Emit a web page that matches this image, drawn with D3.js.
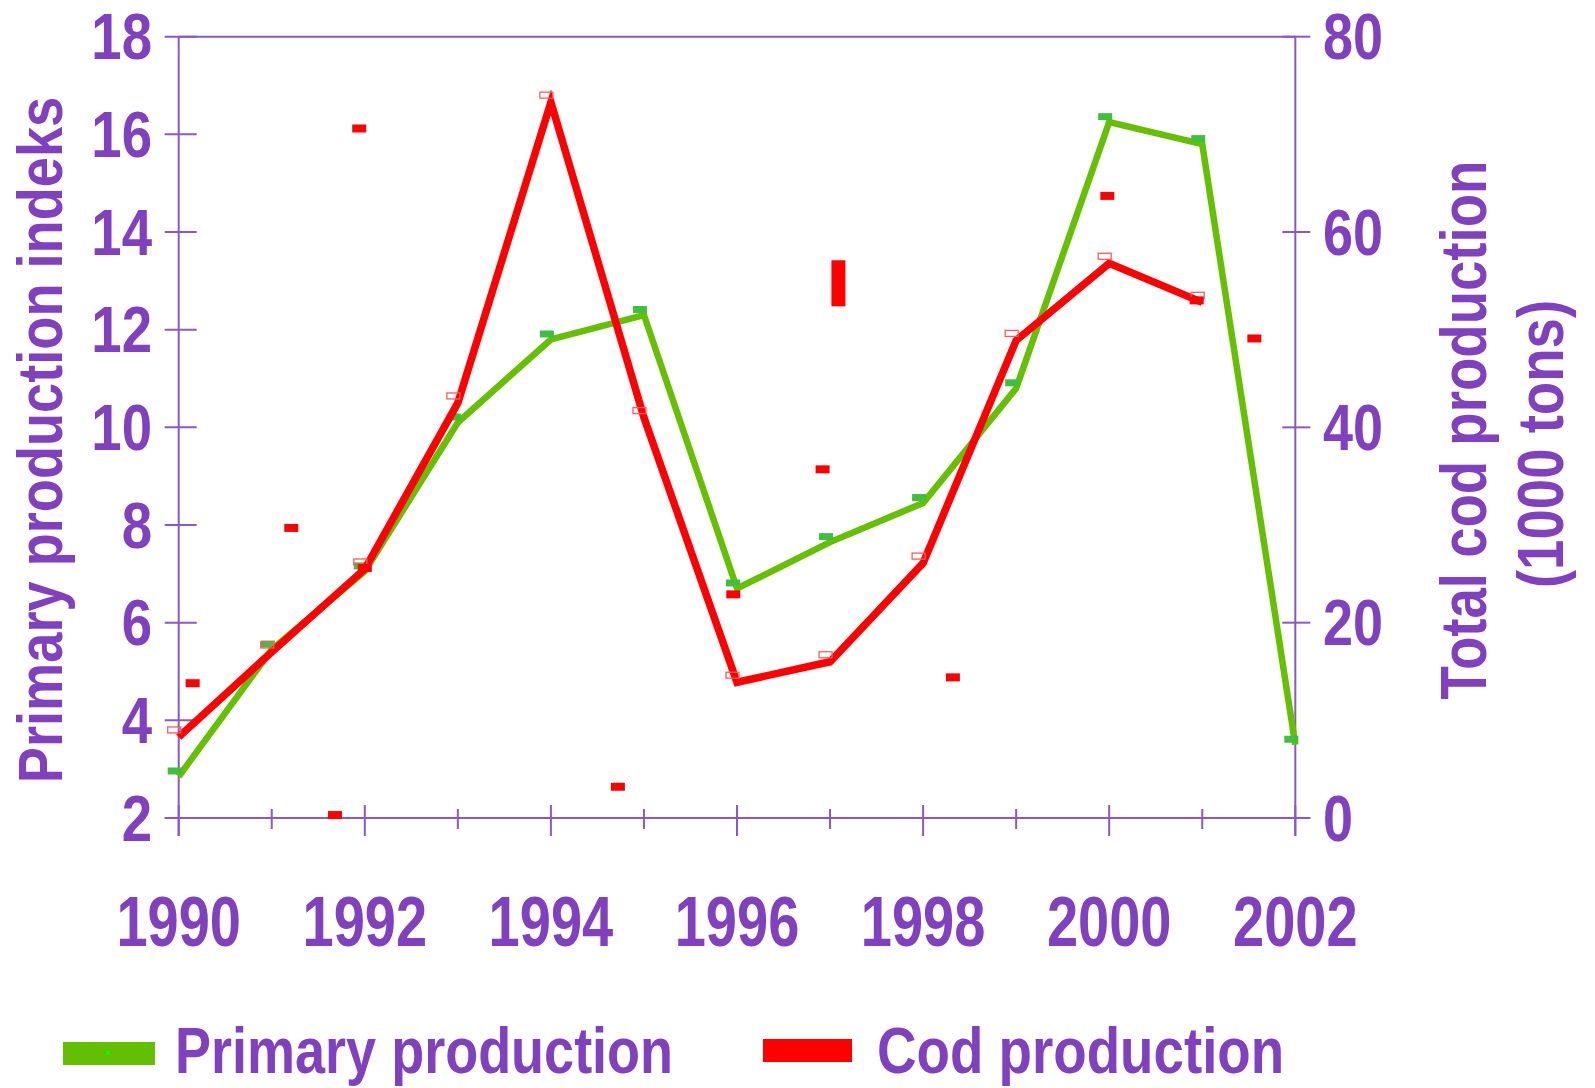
<!DOCTYPE html>
<html>
<head>
<meta charset="utf-8">
<script src="https://cdn.jsdelivr.net/npm/d3@7"></script>
<style>
  body { margin: 0; background: #fff; }
  text { font-family: "Liberation Sans", Arial, sans-serif; font-weight: bold; fill: #8040c0; }
</style>
</head>
<body>
<svg id="chart" width="1595" height="1088"></svg>
<script>
// data
const years = [1990, 1991, 1992, 1993, 1994, 1995, 1996, 1997, 1998, 1999, 2000, 2001, 2002];
const primaryIndex = [2.85, 5.45, 7.05, 10.1, 11.8, 12.3, 6.7, 7.65, 8.45, 10.8, 16.25, 15.8, 3.5];
const codProduction = [8.3, 17.0, 25.5, 42.5, 73.3, 41.0, 13.9, 16.0, 26.1, 48.9, 56.8, 52.8, null];

// loose red markers scattered in the plot (right axis units)
const strayYear = [1990.15, 1991.21, 1991.68, 1991.94, 1992.0, 1994.72, 1995.96, 1996.92, 1997.09, 1998.32, 1999.98, 2000.94, 2001.56];
const strayLow  = [13.8, 29.7, 0.3, 70.6, 25.6, 3.2, 22.9, 35.7, 52.8, 14.4, 63.7, 53.0, 49.1];
const strayHigh = [13.8, 29.7, 0.3, 70.6, 25.6, 3.2, 22.9, 35.7, 56.7, 14.4, 63.7, 53.0, 49.1];

const leftTicks = [2, 4, 6, 8, 10, 12, 14, 16, 18];
const rightTicks = [0, 20, 40, 60, 80];
const yearLabels = [1990, 1992, 1994, 1996, 1998, 2000, 2002];

const seriesNames = ["Primary production", "Cod production"];
const leftTitle = "Primary production indeks";
const rightTitle = ["Total cod production", "(1000 tons)"];

const axisColor = "#8a58c8";
const greenLine = "#64c000";
const greenMark = "#3fbf3f";
const redLine = "#ff0000";

const svg = d3.select("#chart");

const x = d3.scaleLinear().domain([1990, 2002]).range([178.7, 1295.3]);
const yL = d3.scaleLinear().domain([2, 18]).range([818, 36.7]);
const yR = d3.scaleLinear().domain([0, 80]).range([818, 36.7]);

// narrow text: the original font is condensed, so scale it horizontally
function label(parent, str, tx, ty, opts) {
    const g = parent.append("g")
        .attr("transform", `translate(${tx},${ty})` + (opts.rotate ? ` rotate(${opts.rotate})` : "") + ` scale(${opts.k},1)`);
    g.append("text")
        .attr("text-anchor", opts.anchor || "start")
        .attr("font-size", opts.size)
        .text(str);
    return g;
}

// frame
const axes = svg.append("g").attr("stroke", axisColor).attr("stroke-width", 2);
axes.append("line").attr("x1", x(1990)).attr("x2", x(2002)).attr("y1", yL(18)).attr("y2", yL(18));
axes.append("line").attr("x1", x(1990) - 14).attr("x2", x(2002) + 15).attr("y1", yL(2)).attr("y2", yL(2));
axes.append("line").attr("x1", x(1990)).attr("x2", x(1990)).attr("y1", yL(18)).attr("y2", 836);
axes.append("line").attr("x1", x(2002)).attr("x2", x(2002)).attr("y1", yL(18)).attr("y2", 836);

// left ticks
axes.selectAll("line.lt").data(leftTicks).enter().append("line").attr("class", "lt")
    .attr("x1", x(1990) - 14).attr("x2", x(1990) + 18)
    .attr("y1", d => yL(d)).attr("y2", d => yL(d));
// right ticks
axes.selectAll("line.rt").data(rightTicks).enter().append("line").attr("class", "rt")
    .attr("x1", x(2002) - 13).attr("x2", x(2002) + 15)
    .attr("y1", d => yR(d)).attr("y2", d => yR(d));
// bottom ticks, longer on even years
axes.selectAll("line.bt").data(years).enter().append("line").attr("class", "bt")
    .attr("x1", d => x(d)).attr("x2", d => x(d))
    .attr("y1", d => d % 2 === 0 ? yL(2) - 13 : yL(2) - 9)
    .attr("y2", d => d % 2 === 0 ? yL(2) + 18 : yL(2) + 11);

// tick labels
leftTicks.forEach(d => label(svg, d, 152, yL(d) + 22.5, { size: 65, k: 0.84, anchor: "end" }));
rightTicks.forEach(d => label(svg, d, 1323, yR(d) + 22.5, { size: 65, k: 0.83 }));
yearLabels.forEach(d => label(svg, d, x(d), 946, { size: 70, k: 0.8, anchor: "middle" }));

// axis titles
label(svg, leftTitle, 62, 440, { size: 63, k: 0.86, anchor: "middle", rotate: -90 });
label(svg, rightTitle[0], 1486, 430, { size: 65, k: 0.84, anchor: "middle", rotate: -90 });
label(svg, rightTitle[1], 1563, 444, { size: 65, k: 0.84, anchor: "middle", rotate: -90 });

// lines
const primaryPts = years.map((yr, i) => ({ yr: yr, v: primaryIndex[i] }));
const codPts = years.map((yr, i) => ({ yr: yr, v: codProduction[i] }));

svg.append("path")
    .datum(primaryPts)
    .attr("fill", "none").attr("stroke", greenLine).attr("stroke-width", 6.5)
    .attr("stroke-linejoin", "miter")
    .attr("d", d3.line().x(d => x(d.yr)).y(d => yL(d.v)));

svg.selectAll("rect.gm").data(primaryPts).enter().append("rect").attr("class", "gm")
    .attr("x", d => x(d.yr) - 11).attr("y", d => yL(d.v) - 9)
    .attr("width", 14).attr("height", 7)
    .attr("fill", greenMark);

svg.append("path")
    .datum(codPts)
    .attr("fill", "none").attr("stroke", redLine).attr("stroke-width", 7.5)
    .attr("stroke-linejoin", "miter")
    .attr("d", d3.line().defined(d => d.v != null).x(d => x(d.yr)).y(d => yR(d.v)));

svg.selectAll("rect.rm").data(codPts.filter(d => d.v != null)).enter().append("rect").attr("class", "rm")
    .attr("x", d => x(d.yr) - 11).attr("y", d => yR(d.v) - 10)
    .attr("width", 13).attr("height", 6)
    .attr("fill", "none").attr("stroke", "#ff5a5a").attr("stroke-width", 1.3);

const strays = strayYear.map((yr, i) => ({ yr: yr, lo: strayLow[i], hi: strayHigh[i] }));
svg.selectAll("rect.st").data(strays).enter().append("rect").attr("class", "st")
    .attr("x", d => x(d.yr) - 7)
    .attr("y", d => yR(d.hi) - 4)
    .attr("width", 14)
    .attr("height", d => yR(d.lo) - yR(d.hi) + 8)
    .attr("fill", redLine);

// legend
const legend = svg.append("g");
legend.append("rect").attr("x", 63).attr("y", 1042).attr("width", 92).attr("height", 23).attr("fill", "#63c000");
legend.append("rect").attr("x", 106).attr("y", 1051).attr("width", 4).attr("height", 4).attr("fill", "#00ff00");
label(legend, seriesNames[0], 175, 1073, { size: 64, k: 0.844 });
legend.append("rect").attr("x", 763).attr("y", 1039).attr("width", 89).attr("height", 23).attr("fill", redLine);
label(legend, seriesNames[1], 877, 1073, { size: 64, k: 0.855 });
</script>
</body>
</html>
